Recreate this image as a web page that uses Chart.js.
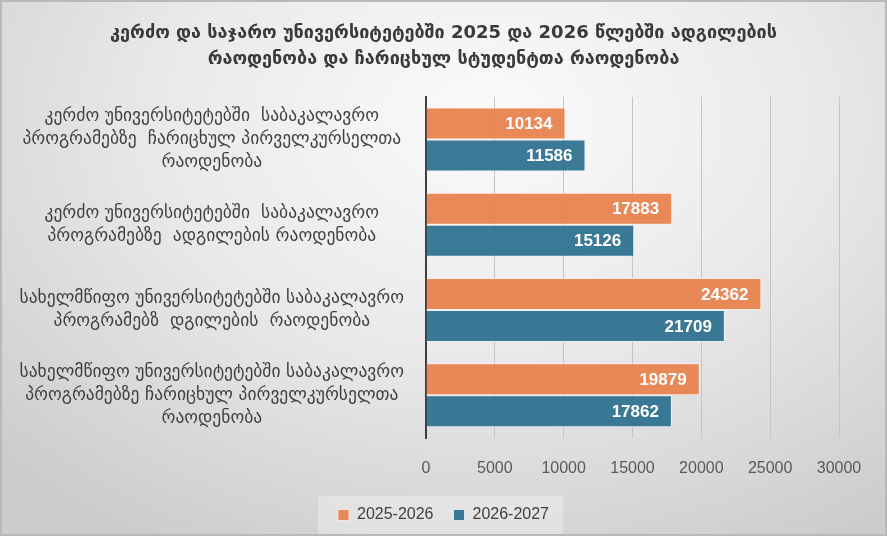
<!DOCTYPE html>
<html>
<head>
<meta charset="utf-8">
<script src="https://cdn.jsdelivr.net/npm/chart.js@4.4.1/dist/chart.umd.min.js"></script>
<style>
	html, body { margin: 0; padding: 0; }
	#wrap {
		width: 887px; height: 536px; box-sizing: border-box;
		border: 2px solid #b9b9b9;
		background: radial-gradient(ellipse 75% 90% at 55% 22%, #fbfbfb 0%, #e9e9e9 50%, #cdcdcd 100%);
	}
	#box { position: relative; width: 883px; height: 532px; }
</style>
</head>
<body>
<div id="wrap"><div id="box"><canvas id="barChart"></canvas></div></div>
<script>
const titleLines = [
	'კერძო და საჯარო უნივერსიტეტებში 2025 და 2026 წლებში ადგილების',
	'რაოდენობა და ჩარიცხულ სტუდენტთა რაოდენობა'
];
const categories = [
	['კერძო უნივერსიტეტებში  საბაკალავრო', 'პროგრამებზე  ჩარიცხულ პირველკურსელთა', 'რაოდენობა'],
	['კერძო უნივერსიტეტებში  საბაკალავრო', 'პროგრამებზე  ადგილების რაოდენობა'],
	['სახელმწიფო უნივერსიტეტებში საბაკალავრო', 'პროგრამებზ  დგილების  რაოდენობა'],
	['სახელმწიფო უნივერსიტეტებში საბაკალავრო', 'პროგრამებზე ჩარიცხულ პირველკურსელთა', 'რაოდენობა']
];
const seriesNames = ['2025-2026', '2026-2027'];
const values2025 = [10134, 17883, 24362, 19879];
const values2026 = [11586, 15126, 21709, 17862];
const xTicks = [0, 5000, 10000, 15000, 20000, 25000, 30000];

// white value labels at the inner end of each bar
const barValueLabels = {
	id: 'barValueLabels',
	afterDatasetsDraw(chart) {
		const ctx = chart.ctx;
		ctx.save();
		ctx.fillStyle = '#ffffff';
		ctx.font = 'bold 17px "Liberation Sans", Arial, sans-serif';
		ctx.textAlign = 'right';
		ctx.textBaseline = 'middle';
		chart.data.datasets.forEach((ds, i) => {
			chart.getDatasetMeta(i).data.forEach((bar, j) => {
				ctx.fillText(ds.data[j], bar.x - 13, bar.y + 1);
			});
		});
		ctx.restore();
	}
};

// light box behind the legend items
const legendBox = {
	id: 'legendBox',
	beforeDraw(chart) {
		const boxes = chart.legend && chart.legend.legendHitBoxes;
		if (!boxes || !boxes.length) return;
		const first = boxes[0], last = boxes[boxes.length - 1];
		const mid = first.top + first.height / 2;
		const ctx = chart.ctx;
		ctx.save();
		ctx.fillStyle = 'rgba(255,255,255,0.3)';
		ctx.fillRect(first.left - 20, mid - 19, last.left + last.width - first.left + 34, 39);
		ctx.restore();
	}
};

// let the category labels use the left padding too (the scale clips its labels to its own box)
const widenLabels = {
	id: 'widenLabels',
	afterLayout(chart) {
		chart.scales.y.left = 0;
	}
};

const ctx = document.getElementById('barChart').getContext('2d');
new Chart(ctx, {
	type: 'bar',
	data: {
		labels: categories,
		datasets: [{
			label: seriesNames[0],
			data: values2025,
			backgroundColor: 'rgba(232,130,76,0.94)',
			borderColor: 'rgba(255,240,230,0.8)',
			borderWidth: 1,
			categoryPercentage: 0.75,
			barPercentage: 1
		}, {
			label: seriesNames[1],
			data: values2026,
			backgroundColor: 'rgba(47,114,143,0.94)',
			borderColor: 'rgba(230,245,255,0.8)',
			borderWidth: 1,
			categoryPercentage: 0.75,
			barPercentage: 1
		}]
	},
	options: {
		indexAxis: 'y',
		responsive: true,
		maintainAspectRatio: false,
		animation: false,
		layout: { padding: { left: 46, right: 46, top: 0, bottom: 1 } },
		scales: {
			x: {
				min: 0,
				max: 30000,
				afterBuildTicks(scale) { scale.ticks = xTicks.map(v => ({ value: v })); },
				afterFit(scale) { scale.height = 49; },
				grid: { color: '#c4c4c4', lineWidth: 1, drawTicks: false },
				border: { display: false },
				ticks: {
					padding: 21,
					color: '#595959',
					callback: v => String(v),
					font: { family: '"Liberation Sans", Arial, sans-serif', size: 16 }
				}
			},
			y: {
				afterFit(scale) { scale.width = 378; },
				grid: { display: false },
				border: { display: true, color: '#3f3f3f', width: 2 },
				ticks: {
					crossAlign: 'center',
					padding: 14,
					color: '#404040',
					font: { family: '"DejaVu Sans", sans-serif', size: 17.5, lineHeight: 1.32 }
				}
			}
		},
		plugins: {
			title: {
				display: true,
				text: titleLines,
				color: '#3a3a3a',
				font: { family: '"DejaVu Sans", sans-serif', size: 18, weight: 'bold', lineHeight: 1.44 },
				padding: { top: 18, bottom: 25 }
			},
			legend: {
				position: 'bottom',
				labels: {
					boxWidth: 11,
					boxHeight: 11,
					padding: 20,
					color: '#404040',
					font: { family: '"Liberation Sans", Arial, sans-serif', size: 16 }
				}
			},
			tooltip: { enabled: false }
		}
	},
	plugins: [widenLabels, legendBox, barValueLabels]
});
</script>
</body>
</html>
